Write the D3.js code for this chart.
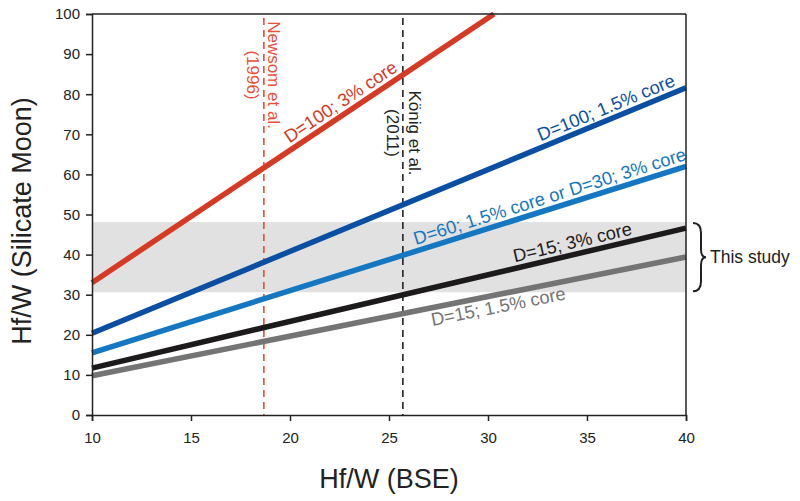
<!DOCTYPE html>
<html><head><meta charset="utf-8">
<script src="https://cdn.jsdelivr.net/npm/d3@7"></script>
<style>body{margin:0;background:#fff}svg{display:block;font-family:Arial,"Liberation Sans",sans-serif}</style>
</head><body><svg id="c" width="800" height="501"></svg>
<script>
const xTicks = [10,15,20,25,30,35,40];
const yTicks = [0,10,20,30,40,50,60,70,80,90,100];
const seriesNames = ["D=100; 3% core","D=100; 1.5% core","D=60; 1.5% core or D=30; 3% core","D=15; 3% core","D=15; 1.5% core"];
const seriesColors = ["#d63a24","#0b4fa3","#1577c1","#1c1a1a","#747474"];
const seriesStart = [[10,33.0],[10,20.4],[10,15.5],[10,11.7],[10,9.8]];
const seriesEnd = [[30.3,100],[40,81.6],[40,62.0],[40,46.6],[40,39.4]];
const labelX = [22.9,36.2,33.3,34.4,30.4];
const labelSide = [-1,-1,-1,-1,1];
const bandRange = [30.6,48.1];
const refX = [18.68,25.7];
const refLabels = [["Newsom et al.","(1996)"],["König et al.","(2011)"]];
const refColors = ["#e8503a","#222"];

const svg = d3.select("#c");
const L=92,R=686,T=14,B=415;
const x = d3.scaleLinear().domain([10,40]).range([L,R]);
const y = d3.scaleLinear().domain([0,100]).range([B,T]);

svg.append("rect").attr("x",x(10)).attr("width",x(40)-x(10))
  .attr("y",y(bandRange[1])).attr("height",y(bandRange[0])-y(bandRange[1])).attr("fill","#e1e1e1");

refX.forEach((v,i)=>{
  svg.append("line").attr("x1",x(v)).attr("x2",x(v)).attr("y1",18).attr("y2",B)
    .attr("stroke",i==0?"#ea4b33":"#222").attr("stroke-width",1.6).attr("stroke-dasharray","7,5");
  const g = svg.append("text").attr("transform",`translate(${x(v)},${i==0?75:133}) rotate(90)`)
    .attr("fill",refColors[i]).attr("font-size",17).attr("text-anchor","middle");
  g.append("tspan").attr("x",0).attr("y",i==0?-4:-6).text(refLabels[i][0]);
  g.append("tspan").attr("x",0).attr("y",i==0?17:16).text(refLabels[i][1]);
});

const line = d3.line().x(d=>x(d[0])).y(d=>y(d[1]));
seriesNames.forEach((n,i)=>{
  svg.append("path").datum([seriesStart[i],seriesEnd[i]]).attr("d",line)
    .attr("stroke",seriesColors[i]).attr("stroke-width",5.5).attr("fill","none");
});

seriesNames.forEach((n,i)=>{
  const a=seriesStart[i], b=seriesEnd[i];
  const px1=x(a[0]),py1=y(a[1]),px2=x(b[0]),py2=y(b[1]);
  const ang = Math.atan2(py2-py1,px2-px1)*180/Math.PI;
  const t=(labelX[i]-a[0])/(b[0]-a[0]);
  const cx=px1+t*(px2-px1), cy=py1+t*(py2-py1);
  svg.append("text").attr("transform",`translate(${cx},${cy}) rotate(${ang})`)
    .attr("y",labelSide[i]<0?-6:18).attr("text-anchor","middle")
    .attr("fill",seriesColors[i]).attr("font-size",18.3).text(n);
});

const styleAxis = g=>{g.select(".domain").attr("stroke","#222").attr("stroke-width",1.5);g.selectAll("line").attr("stroke","#222").attr("stroke-width",1.5);
    g.selectAll("text").attr("font-size",15).attr("fill","#222").attr("font-family","Arial,'Liberation Sans',sans-serif");};
svg.append("g").attr("transform",`translate(0,${B})`)
  .call(d3.axisBottom(x).tickValues(xTicks).tickSize(6).tickPadding(11)).call(styleAxis);
svg.append("g").attr("transform",`translate(${L},0)`)
  .call(d3.axisLeft(y).tickValues(yTicks).tickSize(6).tickPadding(6)).call(styleAxis);
svg.append("line").attr("x1",L).attr("x2",R).attr("y1",T).attr("y2",T).attr("stroke","#222").attr("stroke-width",1.5);
svg.append("line").attr("x1",R).attr("x2",R).attr("y1",T).attr("y2",B).attr("stroke","#222").attr("stroke-width",1.5);

svg.append("text").attr("x",389).attr("y",488).attr("text-anchor","middle").attr("font-size",27).attr("fill","#222").text("Hf/W (BSE)");
svg.append("text").attr("transform","translate(31,221) rotate(-90)").attr("text-anchor","middle").attr("font-size",27).attr("fill","#222").text("Hf/W (Silicate Moon)");

const y0=y(bandRange[1])+1, y1=y(bandRange[0])-1, ym=(y0+y1)/2, bx=693;
svg.append("path").attr("d",`M${bx},${y0} Q${bx+8},${y0} ${bx+8},${y0+10} L${bx+8},${ym-8} Q${bx+8},${ym} ${bx+13},${ym} Q${bx+8},${ym} ${bx+8},${ym+8} L${bx+8},${y1-10} Q${bx+8},${y1} ${bx},${y1}`)
  .attr("fill","none").attr("stroke","#222").attr("stroke-width",2);
svg.append("text").attr("x",710).attr("y",ym+6).attr("font-size",17.5).attr("fill","#222").text("This study");
</script></body></html>
